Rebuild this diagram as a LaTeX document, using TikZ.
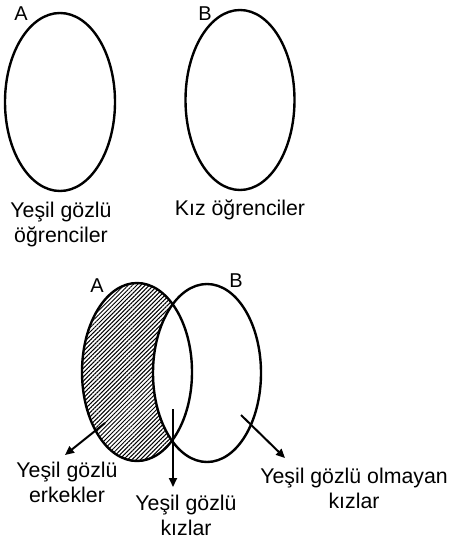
\documentclass[tikz,border=0pt]{standalone}
\usepackage{fontspec}
\setmainfont{Liberation Sans}
\usetikzlibrary{shapes.geometric,arrows.meta,patterns.meta}
\begin{document}
\begin{tikzpicture}[x=1pt,y=-1pt,
  venn/.style={ellipse,draw=black,line width=2.4pt,inner sep=0pt},
  lbl/.style={font=\fontsize{21.3}{25}\selectfont,align=center,inner sep=0pt,anchor=north},
  setname/.style={font=\fontsize{20}{22}\selectfont,inner sep=0pt,anchor=base},
  arr/.style={line width=2pt,-{Triangle[length=9pt,width=8pt]}}]
\useasboundingbox (0,0) rectangle (450,545);
% top diagram
\node[venn,minimum width=110pt,minimum height=178pt] (tA) at (60,102) {};
\node[venn,minimum width=109pt,minimum height=180pt] (tB) at (240,100) {};
\node[setname] (tAl) at (21,21) {A};
\node[setname] (tBl) at (205,21) {B};
\node[lbl] (t1) at (61,201.5) {Yeşil gözlü\\öğrenciler};
\node[lbl] (t2) at (240,199.5) {Kız öğrenciler};
% bottom diagram: hatched A minus B
\begin{scope}
  \clip (137,372) ellipse [x radius=55, y radius=89];
  \fill[pattern={Lines[angle=45,distance=3pt,line width=1pt]},even odd rule]
    (137,372) ellipse [x radius=55, y radius=89]
    (207,373) ellipse [x radius=54, y radius=89];
\end{scope}
\node[venn,minimum width=110pt,minimum height=178pt] (bA) at (137,372) {};
\node[venn,minimum width=108pt,minimum height=178pt] (bB) at (207,373) {};
\node[setname] (bAl) at (97,292) {A};
\node[setname] (bBl) at (236,287) {B};
\node[lbl] (b1) at (67,461.5) {Yeşil gözlü\\erkekler};
\node[lbl] (b2) at (186,494.5) {Yeşil gözlü\\kızlar};
\node[lbl] (b3) at (354,467.5) {Yeşil gözlü olmayan\\kızlar};
% arrows
\coordinate (s1) at (105,423);
\coordinate (e1) at (65,455);
\coordinate (s2) at (173,409);
\coordinate (e2) at (173,487);
\coordinate (s3) at (241,415);
\coordinate (e3) at (285,458);
\draw[arr] (s1) -- (e1);
\draw[arr] (s2) -- (e2);
\draw[arr] (s3) -- (e3);
\end{tikzpicture}
\end{document}
